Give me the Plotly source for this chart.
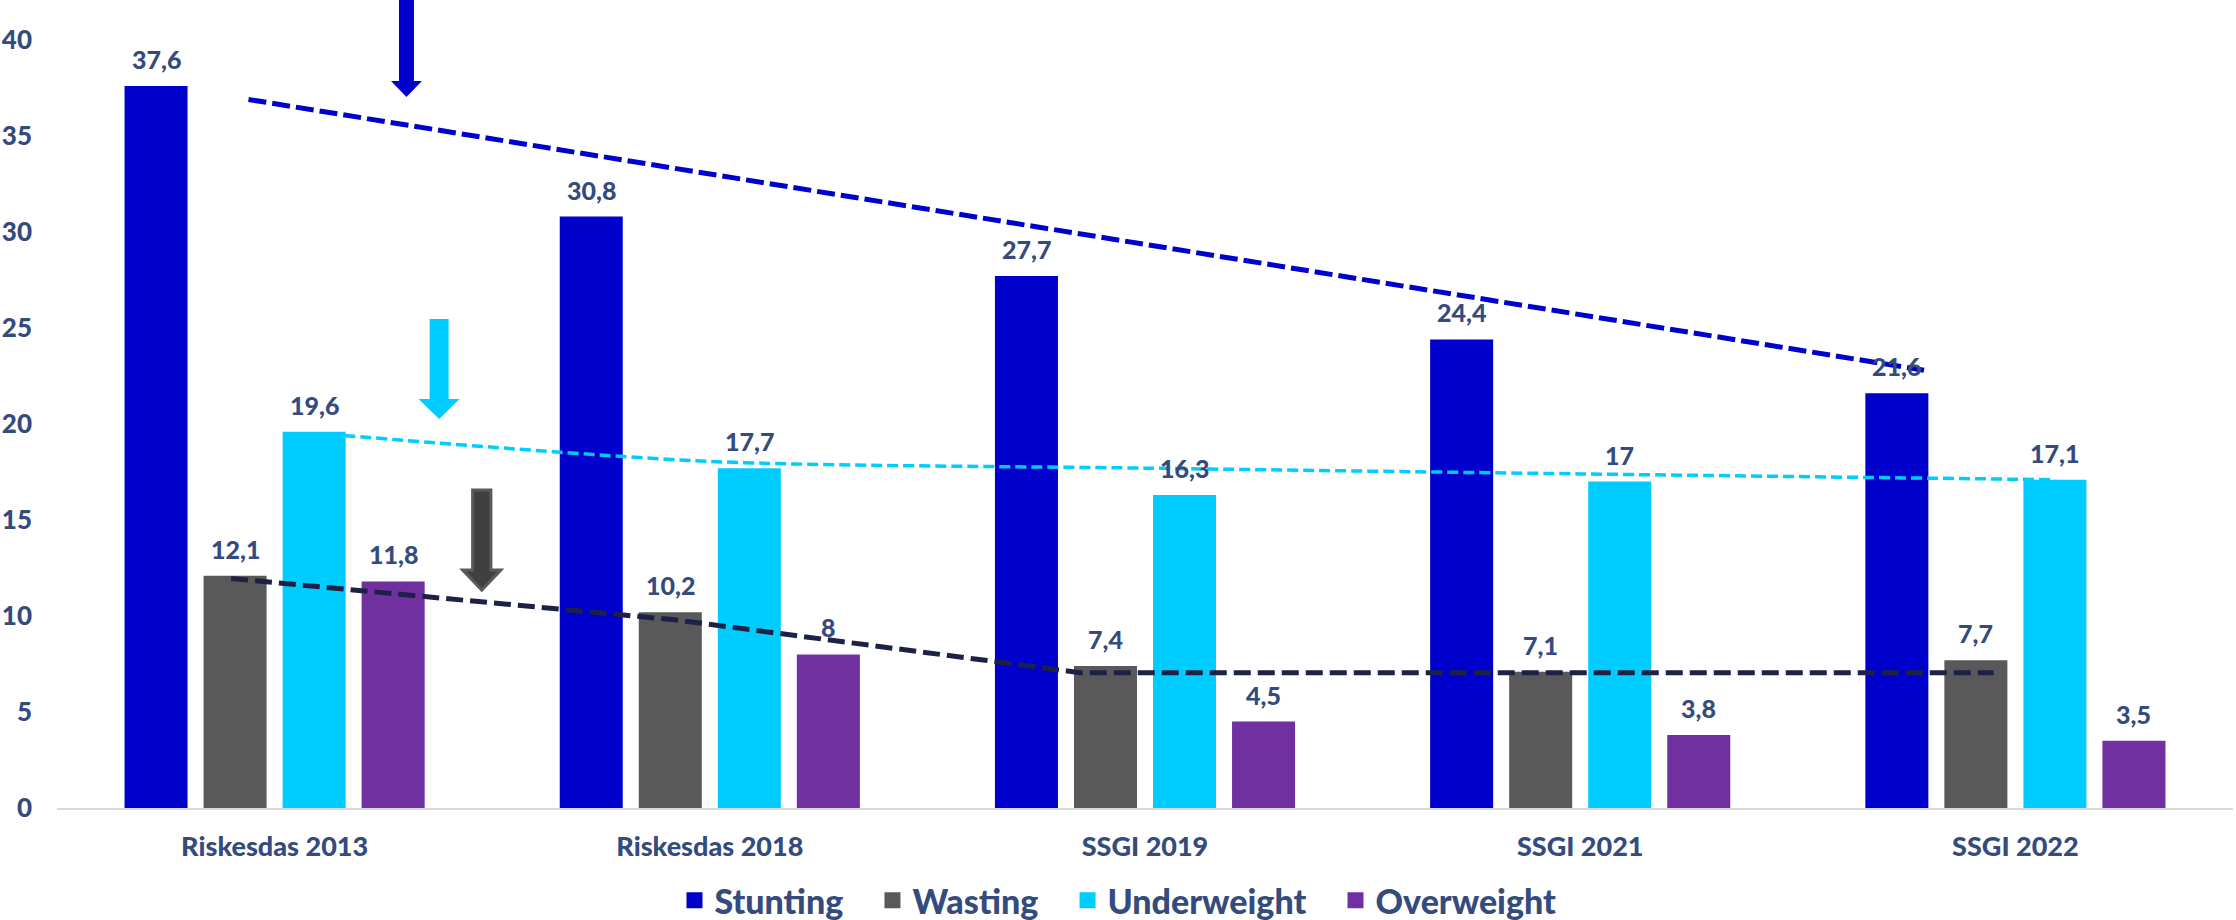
import plotly.graph_objects as go

# ---------------- data ----------------
categories = ["Riskesdas 2013", "Riskesdas 2018", "SSGI 2019", "SSGI 2021", "SSGI 2022"]
series_names = ["Stunting", "Wasting", "Underweight", "Overweight"]
stunting = [37.6, 30.8, 27.7, 24.4, 21.6]
wasting = [12.1, 10.2, 7.4, 7.1, 7.7]
underweight = [19.6, 17.7, 16.3, 17.0, 17.1]
overweight = [11.8, 8.0, 4.5, 3.8, 3.5]
y_tick_values = [0, 5, 10, 15, 20, 25, 30, 35, 40]

# hand-drawn trend lines of the reference (x in category units)
stunting_trend_x = [-0.06, 3.79]
stunting_trend_y = [36.9, 22.8]
wasting_trend_x = [-0.1, 0.92, 1.85, 3.95]
wasting_trend_y = [11.95, 9.8, 7.05, 7.05]
underweight_trend_x = [0.16, 1.0, 2.0, 3.0, 4.08]
underweight_trend_y = [19.4, 18.05, 17.7, 17.4, 17.1]

# decorative block arrows: (x centre, y top, y head base, y tip)
arrow_stunting = (0.303, 42.08, 37.86, 37.03)
arrow_underweight = (0.378, 25.47, 21.3, 20.26)
arrow_wasting = (0.476, 16.56, 12.4, 11.35)

# ---------------- style ----------------
colors = ["#0000CC", "#595959", "#00CCFF", "#7030A0"]
text_color = "#344B7D"
font_family = "Lato"
font_weight = 900
bargap = 0.2736
bargroupgap = 0.2026

series_values = [stunting, wasting, underweight, overweight]
xs = list(range(len(categories)))

fig = go.Figure()
for name, vals, col in zip(series_names, series_values, colors):
    fig.add_trace(go.Bar(x=xs, y=vals, name=name, marker=dict(color=col, line=dict(width=0)),
                         showlegend=False))

fig.add_trace(go.Scatter(x=underweight_trend_x, y=underweight_trend_y, mode="lines",
                         line=dict(color="#00CCFF", width=3.5, dash="11px,5px", shape="spline", smoothing=0.8),
                         showlegend=False, hoverinfo="skip"))
fig.add_trace(go.Scatter(x=wasting_trend_x, y=wasting_trend_y, mode="lines",
                         line=dict(color="#1E2146", width=5, dash="17px,7px"),
                         showlegend=False, hoverinfo="skip"))
fig.add_trace(go.Scatter(x=stunting_trend_x, y=stunting_trend_y, mode="lines",
                         line=dict(color="#0000CC", width=5, dash="18px,6px"),
                         showlegend=False, hoverinfo="skip"))

# legend entries (square swatches like the reference)
pad = "\u00a0\u00a0\u00a0"
for k, (name, col) in enumerate(zip(series_names, colors)):
    label = name + (pad if k < len(series_names) - 1 else "")
    fig.add_trace(go.Scatter(x=[None], y=[None], mode="markers", name=label,
                             marker=dict(symbol="square", size=16, color=col),
                             showlegend=True, hoverinfo="skip"))


def fmt(v):
    return f"{v:g}".replace(".", ",")


n = len(series_names)
step = (1 - bargap) / n
annotations = []
for j, vals in enumerate(series_values):
    for i, v in enumerate(vals):
        annotations.append(dict(
            x=i + (j - (n - 1) / 2) * step, y=v, xref="x", yref="y",
            text=fmt(v), showarrow=False, yanchor="middle", yshift=27,
            font=dict(family=font_family, size=25, color=text_color, weight=font_weight)))

# arrow shapes
shapes = []
def arrow(spec, shaft_half, head_half, fill, outline=None, lw=0):
    x, top, base, tip = spec
    path = (f"M{x - shaft_half},{top} L{x + shaft_half},{top} L{x + shaft_half},{base} "
            f"L{x + head_half},{base} L{x},{tip} L{x - head_half},{base} L{x - shaft_half},{base} Z")
    return dict(type="path", path=path, xref="x", yref="y", fillcolor=fill,
                line=dict(color=outline or fill, width=lw), layer="above")

shapes.append(arrow(arrow_stunting, 0.0172, 0.0356, "#0000CC"))
shapes.append(arrow(arrow_underweight, 0.0218, 0.0471, "#00CCFF"))
shapes.append(arrow(arrow_wasting, 0.021, 0.044, "#404040", "#5A5A5A", 3))

fig.update_layout(
    width=2236, height=920,
    margin=dict(l=57, r=3, t=0, b=112),
    paper_bgcolor="white", plot_bgcolor="white",
    barmode="group", bargap=bargap, bargroupgap=bargroupgap,
    font=dict(family=font_family, color=text_color, weight=font_weight),
    xaxis=dict(range=[-0.5, 4.5], tickmode="array", tickvals=xs, ticktext=categories,
               showgrid=False, zeroline=False, showline=True, linecolor="#D9D9D9", linewidth=2,
               ticks="", tickfont=dict(family=font_family, size=27, color=text_color, weight=font_weight),
               ticklabelstandoff=14),
    yaxis=dict(range=[0, 42.08], tickmode="array", tickvals=y_tick_values,
               showgrid=False, zeroline=False, showline=False, ticks="",
               tickfont=dict(family=font_family, size=26, color=text_color, weight=font_weight),
               ticklabelstandoff=24),
    legend=dict(orientation="h", x=0.5, xanchor="center", xref="container",
                y=0.021, yanchor="middle", yref="container",
                font=dict(family=font_family, size=34, color=text_color, weight=font_weight),
                itemsizing="trace", traceorder="normal"),
    annotations=annotations,
    shapes=shapes,
    showlegend=True,
)

fig.write_html("out.html")
